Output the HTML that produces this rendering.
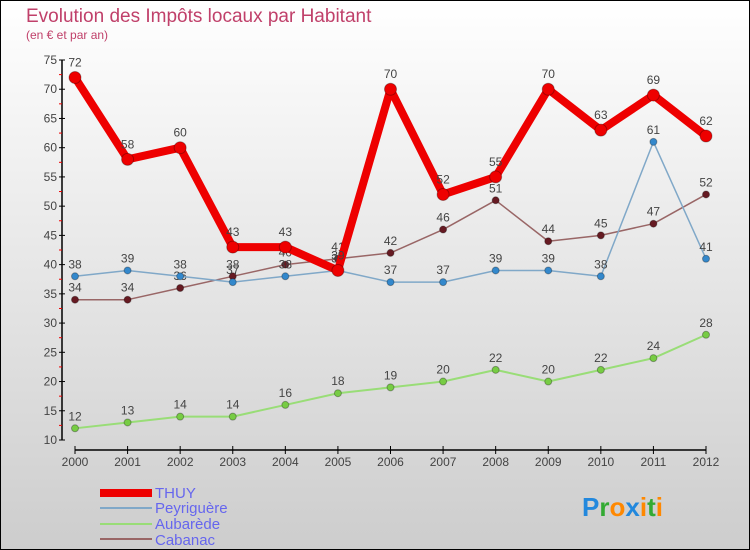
<!DOCTYPE html>
<html><head><meta charset="utf-8"><style>
body{margin:0;width:750px;height:550px;overflow:hidden}
svg{display:block;font-family:"Liberation Sans","DejaVu Sans",sans-serif}
</style></head><body>
<svg id="chart" width="750" height="550">
<defs><linearGradient id="bg" x1="0" y1="0" x2="0" y2="1"><stop offset="0" stop-color="#ffffff"/><stop offset="1" stop-color="#cdcdcd"/></linearGradient></defs>
<rect x="0.5" y="0.5" width="749" height="549" fill="url(#bg)" stroke="#000"/>
<text x="26" y="22" font-size="19" fill="#c0406a">Evolution des Impôts locaux par Habitant</text>
<text x="26" y="39" font-size="12" fill="#c0406a">(en € et par an)</text>
<g id="axes"></g><g id="series"></g>
<g>
<rect x="100" y="489" width="52" height="8" fill="#e00"/>
<text x="155" y="498" font-size="15" fill="#6666ee">THUY</text>
<line x1="100" y1="508" x2="152" y2="508" stroke="#80a8c8" stroke-width="2"/>
<text x="155" y="513" font-size="15" fill="#6666ee">Peyriguère</text>
<line x1="100" y1="524" x2="152" y2="524" stroke="#99dd77" stroke-width="2"/>
<text x="155" y="529" font-size="15" fill="#6666ee">Aubarède</text>
<line x1="100" y1="539" x2="152" y2="539" stroke="#996666" stroke-width="2"/>
<text x="155" y="545" font-size="15" fill="#6666ee">Cabanac</text>
</g>
<text x="582" y="516" font-size="26" font-weight="bold"><tspan fill="#2288dd">P</tspan><tspan fill="#33aa33">r</tspan><tspan fill="#ff8800">o</tspan><tspan fill="#2288dd">x</tspan><tspan fill="#ff8800">i</tspan><tspan fill="#33aa33">t</tspan><tspan fill="#ff8800">i</tspan></text>
</svg>
<script>
const years=[2000,2001,2002,2003,2004,2005,2006,2007,2008,2009,2010,2011,2012];
const yTicks=[10,15,20,25,30,35,40,45,50,55,60,65,70,75];
const thuy=[72,58,60,43,43,39,70,52,55,70,63,69,62];
const peyriguere=[38,39,38,37,38,39,37,37,39,39,38,61,41];
const aubarede=[12,13,14,14,16,18,19,20,22,20,22,24,28];
const cabanac=[34,34,36,38,40,41,42,46,51,44,45,47,52];
const NS="http://www.w3.org/2000/svg";
const xs=i=>75+i*(706-75)/(years.length-1);
const ys=v=>440-(v-10)*(380/65);
function mk(p,t,a){const e=document.createElementNS(NS,t);for(const k in a)e.setAttribute(k,a[k]);p.appendChild(e);return e;}
const ax=document.getElementById('axes');
let l=mk(ax,'line',{x1:62,y1:60,x2:62,y2:440,stroke:'#000','stroke-width':1.5});


l=mk(ax,'line',{x1:75,y1:450,x2:706,y2:450,stroke:'#000','stroke-width':1.5});


yTicks.forEach((v,i)=>{
 mk(ax,'line',{x1:59,y1:ys(v),x2:65,y2:ys(v),stroke:'#000'});
 if(i<yTicks.length-1)mk(ax,'line',{x1:59,y1:ys(v+2.5),x2:62,y2:ys(v+2.5),stroke:'#e00'});
 const t=mk(ax,'text',{x:57,y:ys(v)+4,'font-size':12,fill:'#444','text-anchor':'end'});t.textContent=v;
 
 
});
years.forEach((y,i)=>{
 mk(ax,'line',{x1:xs(i),y1:446,x2:xs(i),y2:454,stroke:'#000'});
 const t=mk(ax,'text',{x:xs(i),y:466,'font-size':12,fill:'#444','text-anchor':'middle'});t.textContent=y;
 
 
});
const sg=document.getElementById('series');
function draw(data,name,color,w,r,dot){
 const g=mk(sg,'g',{});
 
 
 mk(g,'polyline',{points:data.map((v,i)=>xs(i)+','+ys(v)).join(' '),fill:'none',stroke:color,'stroke-width':w,'stroke-linejoin':'round'});
 data.forEach((v,i)=>{
  const c=mk(g,'circle',{cx:xs(i),cy:ys(v),r:r,fill:dot,stroke:'rgba(0,0,0,0.3)'});
  
  
  const t=mk(g,'text',{x:xs(i),y:ys(v)-8-(r>4?3:0),'font-size':12,fill:'#444','text-anchor':'middle'});t.textContent=v;
  
  
 });
}
draw(aubarede,'aubarede','#99dd77',2,3.5,'#77cc44');
draw(cabanac,'cabanac','#996666',1.5,3.5,'#661a22');
draw(peyriguere,'peyriguere','#80a8c8',1.5,3.5,'#3388cc');
draw(thuy,'thuy','#ee0000',8,6,'#ee0000');
</script>
</body></html>
